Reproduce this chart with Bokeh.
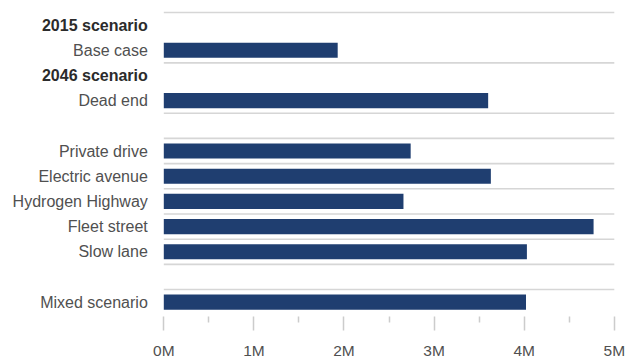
from bokeh.plotting import figure
from bokeh.models import Range1d, FixedTicker, ColumnDataSource
from bokeh.core.properties import value
from bokeh.embed import file_html
from bokeh.resources import INLINE

# ---- data ----
categories = ["2015 scenario", "Base case", "2046 scenario", "Dead end", "",
              "Private drive", "Electric avenue", "Hydrogen Highway",
              "Fleet street", "Slow lane", "", "Mixed scenario"]
row_kind = ["header", "item", "header", "item", "spacer",
            "item", "item", "item", "item", "item", "spacer", "item"]
values_m = [None, 1.93, None, 3.60, None,
            2.74, 3.63, 2.66, 4.77, 4.03, None, 4.02]
tick_values = [0, 1, 2, 3, 4, 5]
tick_labels = ["0M", "1M", "2M", "3M", "4M", "5M"]
minor_tick_values = [0.5, 1.5, 2.5, 3.5, 4.5]

FONT = "Liberation Sans"
BAR = "#1f3e70"
GRID = "#d6d6d6"

n = len(categories)
W, H = 629, 361
p = figure(width=W, height=H, output_backend="svg", toolbar_location=None,
           x_range=Range1d(-1.8124, 5.1687), y_range=Range1d(11.569, -0.975),
           min_border_left=0, min_border_right=0, min_border_top=0,
           min_border_bottom=44)
p.outline_line_color = None
p.background_fill_color = "white"
p.border_fill_color = "white"
p.xgrid.visible = False
p.ygrid.visible = False
p.yaxis.visible = False

# separators: above every row except those directly under a header
sep_y = [i - 0.5 for i in range(n) if i == 0 or row_kind[i - 1] != "header"]
xmin, xmax = tick_values[0], tick_values[-1]
p.segment(x0=[xmin] * len(sep_y), x1=[xmax] * len(sep_y), y0=sep_y, y1=sep_y,
          line_color=GRID, line_width=1.6)

bars_y = [i for i, v in enumerate(values_m) if v is not None]
bars_v = [v for v in values_m if v is not None]
src = ColumnDataSource(dict(y=bars_y, right=bars_v))
p.hbar(y="y", left=0, right="right", height=0.6, source=src,
       fill_color=BAR, line_color=None)

hdr = [(i, c) for i, (c, k) in enumerate(zip(categories, row_kind)) if k == "header"]
itm = [(i, c) for i, (c, k) in enumerate(zip(categories, row_kind)) if k == "item"]
p.text(x=[0] * len(hdr), y=[i for i, _ in hdr], text=[c for _, c in hdr],
       x_offset=-16, text_align="right", text_baseline="middle",
       text_font=value(FONT), text_font_size="16px", text_font_style="bold",
       text_color="#2b2b2b")
p.text(x=[0] * len(itm), y=[i for i, _ in itm], text=[c for _, c in itm],
       x_offset=-16, text_align="right", text_baseline="middle",
       text_font=value(FONT), text_font_size="16px", text_font_style="normal",
       text_color="#505050")

ax = p.xaxis[0]
ax.ticker = FixedTicker(ticks=tick_values, minor_ticks=minor_tick_values)
ax.major_label_overrides = {v: l for v, l in zip(tick_values, tick_labels)}
ax.axis_line_color = None
ax.major_tick_in = 0
ax.major_tick_out = 14
ax.minor_tick_in = 0
ax.minor_tick_out = 6
ax.major_tick_line_color = "#cccccc"
ax.minor_tick_line_color = "#cccccc"
ax.major_tick_line_width = 1.5
ax.minor_tick_line_width = 1.5
ax.major_label_standoff = 11
ax.major_label_text_font = FONT
ax.major_label_text_font_size = "15.5px"
ax.major_label_text_color = "#505050"

open("out.html", "w").write(file_html(p, INLINE))
